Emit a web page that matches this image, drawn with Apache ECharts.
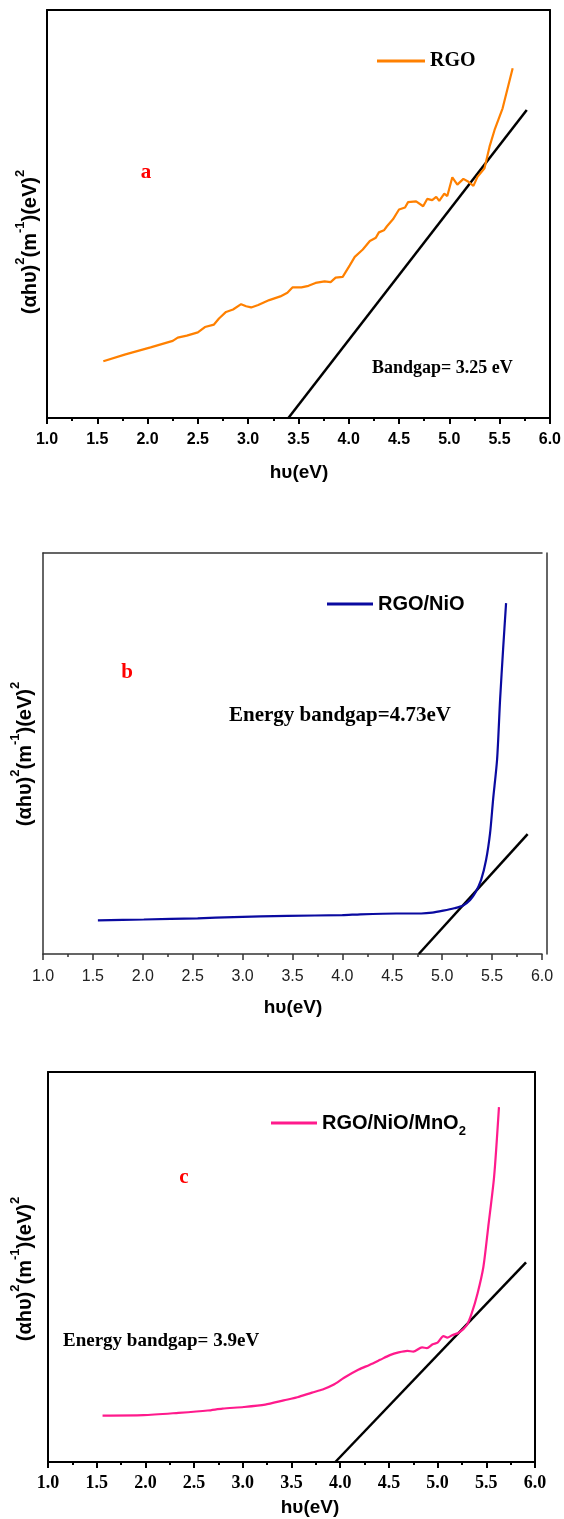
<!DOCTYPE html>
<html>
<head>
<meta charset="utf-8">
<script src="https://cdn.jsdelivr.net/npm/echarts@6/dist/echarts.min.js"></script>
<style>
  html, body { margin: 0; padding: 0; background: #fff; }
  #chart { width: 564px; height: 1519px; }
</style>
</head>
<body>
<div id="chart"></div>
<script>
// panel a - RGO
const energyA = [1.56, 1.78, 2.03, 2.25, 2.30, 2.39, 2.50, 2.57, 2.66, 2.71, 2.78, 2.85, 2.93, 2.98, 3.03, 3.10, 3.21, 3.32, 3.39, 3.44, 3.53, 3.60, 3.67, 3.76, 3.82, 3.87, 3.94, 4.01, 4.06, 4.14, 4.21, 4.27, 4.30, 4.35, 4.38, 4.44, 4.50, 4.56, 4.59, 4.67, 4.74, 4.78, 4.83, 4.87, 4.90, 4.95, 4.98, 5.03, 5.08, 5.14, 5.19, 5.24, 5.28, 5.35, 5.40, 5.45, 5.53, 5.63]
const absA = [13.9, 15.6, 17.3, 18.9, 19.7, 20.2, 21.0, 22.3, 22.9, 24.4, 26.0, 26.6, 27.9, 27.4, 27.1, 27.7, 28.9, 29.8, 30.7, 32.0, 32.0, 32.4, 33.1, 33.5, 33.3, 34.4, 34.6, 37.4, 39.5, 41.3, 43.4, 44.2, 45.5, 46.0, 47.0, 48.7, 51.1, 51.6, 52.9, 53.1, 51.9, 53.7, 53.4, 54.2, 53.2, 55.0, 54.4, 59.0, 57.2, 58.6, 57.9, 56.9, 59.1, 61.2, 66.5, 70.6, 75.9, 85.7]
const tanAX = [3.40, 5.77]
const tanAY = [0, 75.5]

// panel b - RGO/NiO
const energyB = [1.55, 2.01, 2.55, 2.91, 3.45, 4.00, 4.18, 4.54, 4.79, 4.90, 5.01, 5.12, 5.21, 5.28, 5.33, 5.39, 5.44, 5.48, 5.51, 5.55, 5.58, 5.61, 5.64]
const absB = [8.4, 8.6, 8.9, 9.2, 9.5, 9.7, 9.9, 10.1, 10.1, 10.3, 10.8, 11.4, 12.1, 13.5, 15.2, 18.5, 23.5, 30.2, 38.5, 48.5, 63.4, 75.9, 87.5]
const tanBX = [4.765, 5.856]
const tanBY = [0, 29.9]

// panel c - RGO/NiO/MnO2
const energyC = [1.56, 1.98, 2.34, 2.64, 2.79, 3.01, 3.23, 3.42, 3.56, 3.71, 3.82, 3.93, 4.04, 4.19, 4.30, 4.41, 4.51, 4.60, 4.69, 4.75, 4.84, 4.89, 4.95, 5.00, 5.06, 5.10, 5.15, 5.22, 5.30, 5.35, 5.41, 5.47, 5.52, 5.58, 5.63]
const absC = [11.9, 12.0, 12.6, 13.2, 13.7, 14.1, 14.7, 15.8, 16.6, 17.8, 18.6, 19.8, 21.6, 23.7, 24.9, 26.2, 27.4, 28.1, 28.5, 28.3, 29.4, 29.2, 30.2, 30.6, 32.3, 31.9, 32.5, 33.2, 35.1, 38.1, 43.2, 50.0, 60.3, 73.1, 91.0]
const tanCX = [3.95, 5.908]
const tanCY = [0, 51.2]

const zip = (xs, ys) => xs.map((x, i) => [x, ys[i]])

const SANS = 'Liberation Sans'
const SERIF = 'Liberation Serif'

const grids = [
  { left: 47, top: 10, width: 504, height: 408 },
  { left: 43, top: 553, width: 499, height: 401 },
  { left: 48, top: 1072, width: 487, height: 390 }
]

const axisLook = [
  { color: '#000', width: 2, labelFont: SANS, labelWeight: 'bold', labelColor: '#000', labelSize: 16, margin: 14 },
  { color: '#333', width: 1.5, labelFont: SANS, labelWeight: 'normal', labelColor: '#222', labelSize: 16, margin: 15 },
  { color: '#000', width: 2, labelFont: SERIF, labelWeight: 'bold', labelColor: '#000', labelSize: 18, margin: 12 }
]

const xAxes = []
const yAxes = []
axisLook.forEach((a, i) => {
  xAxes.push({
    type: 'value', gridIndex: i, min: 1, max: 6, interval: 0.5,
    axisLine: { show: true, onZero: false, lineStyle: { color: a.color, width: a.width } },
    axisTick: { show: true, inside: false, length: 6, lineStyle: { color: a.color, width: a.width } },
    minorTick: { show: true, splitNumber: 2, length: 3, lineStyle: { color: a.color, width: a.width } },
    splitLine: { show: false },
    axisLabel: {
      margin: a.margin, fontSize: a.labelSize, fontFamily: a.labelFont, fontWeight: a.labelWeight,
      color: a.labelColor, showMinLabel: true, showMaxLabel: true,
      formatter: v => v.toFixed(1)
    }
  })
  // top border
  xAxes.push({
    type: 'value', gridIndex: i, min: 1, max: 6, position: 'top',
    axisLine: { show: true, onZero: false, lineStyle: { color: a.color, width: a.width } },
    axisTick: { show: false }, axisLabel: { show: false }, splitLine: { show: false }
  })
  yAxes.push({
    type: 'value', gridIndex: i, min: 0, max: 100,
    axisLine: { show: true, onZero: false, lineStyle: { color: a.color, width: a.width } },
    axisTick: { show: false }, axisLabel: { show: false }, splitLine: { show: false }
  })
  // right border
  yAxes.push({
    type: 'value', gridIndex: i, min: 0, max: 100, position: 'right', offset: i === 1 ? 5 : 0,
    axisLine: { show: true, onZero: false, lineStyle: { color: a.color, width: a.width } },
    axisTick: { show: false }, axisLabel: { show: false }, splitLine: { show: false }
  })
})

const curve = (name, idx, data, color, smooth) => ({
  name, type: 'line', xAxisIndex: idx * 2, yAxisIndex: idx * 2,
  data, showSymbol: false, symbol: 'none', smooth,
  lineStyle: { color, width: 2.2 }, itemStyle: { color }, z: 3
})
const tangent = (idx, data) => ({
  name: 'fit' + idx, type: 'line', xAxisIndex: idx * 2, yAxisIndex: idx * 2,
  data, showSymbol: false, symbol: 'none',
  lineStyle: { color: '#000', width: 2.5 }, itemStyle: { color: '#000' }, z: 2
})

const legendBase = { orient: 'horizontal', padding: 0, itemHeight: 3, icon: 'rect', itemGap: 5, selectedMode: false }

const label = (text, x, y, size, color, family, align) => ({
  type: 'text', x, y,
  style: { text, fontSize: size, fontWeight: 'bold', fontFamily: family, fill: color, align: align || 'center', verticalAlign: 'middle' }
})

const yTitleRich = {
  n: { fontSize: 20, fontWeight: 'bold', fontFamily: SANS, lineHeight: 26, verticalAlign: 'bottom' },
  s: { fontSize: 13, fontWeight: 'bold', fontFamily: SANS, lineHeight: 13, verticalAlign: 'top' }
}
const yTitle = (x, y) => ({
  type: 'text', x, y, rotation: Math.PI / 2,
  style: {
    text: '{n|(αhυ)}{s|2}{n|(m}{s|-1}{n|)(eV)}{s|2}',
    rich: yTitleRich, fill: '#000', align: 'center', verticalAlign: 'middle'
  }
})

const option = {
  animation: false,
  backgroundColor: '#fff',
  grid: grids,
  xAxis: xAxes,
  yAxis: yAxes,
  legend: [
    Object.assign({}, legendBase, {
      data: ['RGO'], left: 377, top: 51, itemWidth: 48,
      textStyle: { fontSize: 20, fontWeight: 'bold', fontFamily: SERIF, color: '#000' }
    }),
    Object.assign({}, legendBase, {
      data: ['RGO/NiO'], left: 327, top: 594, itemWidth: 46,
      textStyle: { fontSize: 20, fontWeight: 'bold', fontFamily: SANS, color: '#000' }
    }),
    Object.assign({}, legendBase, {
      data: ['RGO/NiO/MnO2'], left: 271, top: 1113, itemWidth: 46,
      formatter: () => '{t|RGO/NiO/MnO}{b|2}',
      textStyle: {
        fontSize: 20, fontWeight: 'bold', fontFamily: SANS, color: '#000',
        rich: {
          t: { fontSize: 20, fontWeight: 'bold', fontFamily: SANS, lineHeight: 22 },
          b: { fontSize: 13, fontWeight: 'bold', fontFamily: SANS, lineHeight: 13, verticalAlign: 'bottom', padding: [0, 0, -4, 0] }
        }
      }
    })
  ],
  graphic: [
    yTitle(27, 242),
    yTitle(22, 754),
    yTitle(22, 1269),
    label('hυ(eV)', 299, 473, 19, '#000', SANS),
    label('hυ(eV)', 293, 1008, 19, '#000', SANS),
    label('hυ(eV)', 310, 1508, 19, '#000', SANS),
    label('a', 146, 173, 21, '#ff0000', SERIF),
    label('b', 127, 673, 21, '#ff0000', SERIF),
    label('c', 184, 1178, 21, '#ff0000', SERIF),
    label('Bandgap= 3.25 eV', 372, 368, 18, '#000', SERIF, 'left'),
    label('Energy bandgap=4.73eV', 229, 716, 21, '#000', SERIF, 'left'),
    label('Energy bandgap= 3.9eV', 63, 1341, 19, '#000', SERIF, 'left')
  ],
  series: [
    curve('RGO', 0, zip(energyA, absA), '#ff8000', false),
    tangent(0, zip(tanAX, tanAY)),
    curve('RGO/NiO', 1, zip(energyB, absB), '#0a0aa0', 0.25),
    tangent(1, zip(tanBX, tanBY)),
    curve('RGO/NiO/MnO2', 2, zip(energyC, absC), '#ff1a8c', 0.25),
    tangent(2, zip(tanCX, tanCY))
  ]
}

const chart = echarts.init(document.getElementById('chart'))
chart.setOption(option)
</script>
</body>
</html>
